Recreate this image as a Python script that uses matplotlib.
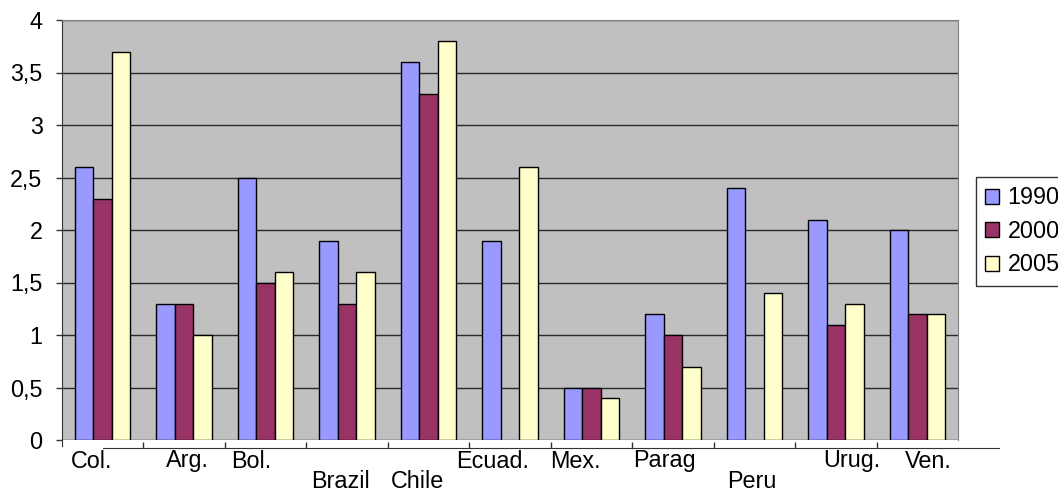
import matplotlib.pyplot as plt
import numpy as np

plt.rcParams['font.family'] = ['Liberation Sans', 'DejaVu Sans']

countries = ["Col.", "Arg.", "Bol.", "Brazil", "Chile", "Ecuad.", "Mex.", "Parag", "Peru", "Urug.", "Ven."]
years = ["1990", "2000", "2005"]
v1990 = [2.6, 1.3, 2.5, 1.9, 3.6, 1.9, 0.5, 1.2, 2.4, 2.1, 2.0]
v2000 = [2.3, 1.3, 1.5, 1.3, 3.3, np.nan, 0.5, 1.0, np.nan, 1.1, 1.2]
v2005 = [3.7, 1.0, 1.6, 1.6, 3.8, 2.6, 0.4, 0.7, 1.4, 1.3, 1.2]
yticks = [0, 0.5, 1, 1.5, 2, 2.5, 3, 3.5, 4]

colors = ["#9999ff", "#993366", "#ffffcc"]
# category labels sit a little off-centre, some on a second row
label_shift = [-0.14, 0.04, -0.18, -0.08, -0.14, -0.21, -0.20, -0.11, -0.03, 0.20, 0.13]
label_row = [0, 0, 0, 1, 1, 0, 0, 0, 1, 0, 0]
fs = 16.8

fig = plt.figure(figsize=(10.58, 4.93), dpi=100)
ax = fig.add_axes([62/1058, 53/493, 896/1058, 420/493])
ax.set_facecolor("#c0c0c0")

x = np.arange(len(countries))
w = 0.227
for i, vals in enumerate([v1990, v2000, v2005]):
    ax.bar(x + (i - 1) * w, vals, w, color=colors[i], edgecolor="black", linewidth=1, label=years[i], zorder=3)

ax.set_xlim(-0.5, len(countries) - 0.5)
ax.set_ylim(0, 4)
ax.set_yticks(yticks)
ax.set_yticklabels([("%g" % t).replace(".", ",") for t in yticks], fontsize=fs)
ax.yaxis.grid(True, color="#2a2a2a", linewidth=1)
ax.set_axisbelow(True)
ax.tick_params(axis="y", length=4, width=1, pad=10, color="#333333")

# x axis: line a bit below zero with ticks between categories
ax.set_xticks(np.arange(len(countries) - 1) + 0.5)
ax.set_xticklabels([])
ax.tick_params(axis="x", direction="in", length=4.5, width=1, color="#333333")
ax.spines["bottom"].set_position(("outward", 6))
ax.spines["bottom"].set_bounds(0, len(countries))
ax.spines["bottom"].set_color("#333333")
ax.spines["left"].set_bounds(-0.06, 4)
ax.spines["left"].set_color("#333333")
ax.spines["top"].set_color("#808080")
ax.spines["right"].set_color("#808080")

for i, name in enumerate(countries):
    ax.annotate(name, xy=(x[i] + label_shift[i], 0), xycoords=("data", "data"),
                xytext=(0, -21 - 21 * label_row[i]), textcoords="offset pixels",
                ha="center", va="center", fontsize=fs, annotation_clip=False)

leg = fig.legend(loc="upper left", bbox_to_anchor=(976/1058, 1 - 177/493), fontsize=fs,
                 handlelength=0.6, handleheight=0.6, handletextpad=0.35, borderpad=0.4,
                 labelspacing=0.45, borderaxespad=0, frameon=True, fancybox=False)
leg.get_frame().set_edgecolor("black")
leg.get_frame().set_linewidth(1)

fig.savefig("out.png", dpi=100)
